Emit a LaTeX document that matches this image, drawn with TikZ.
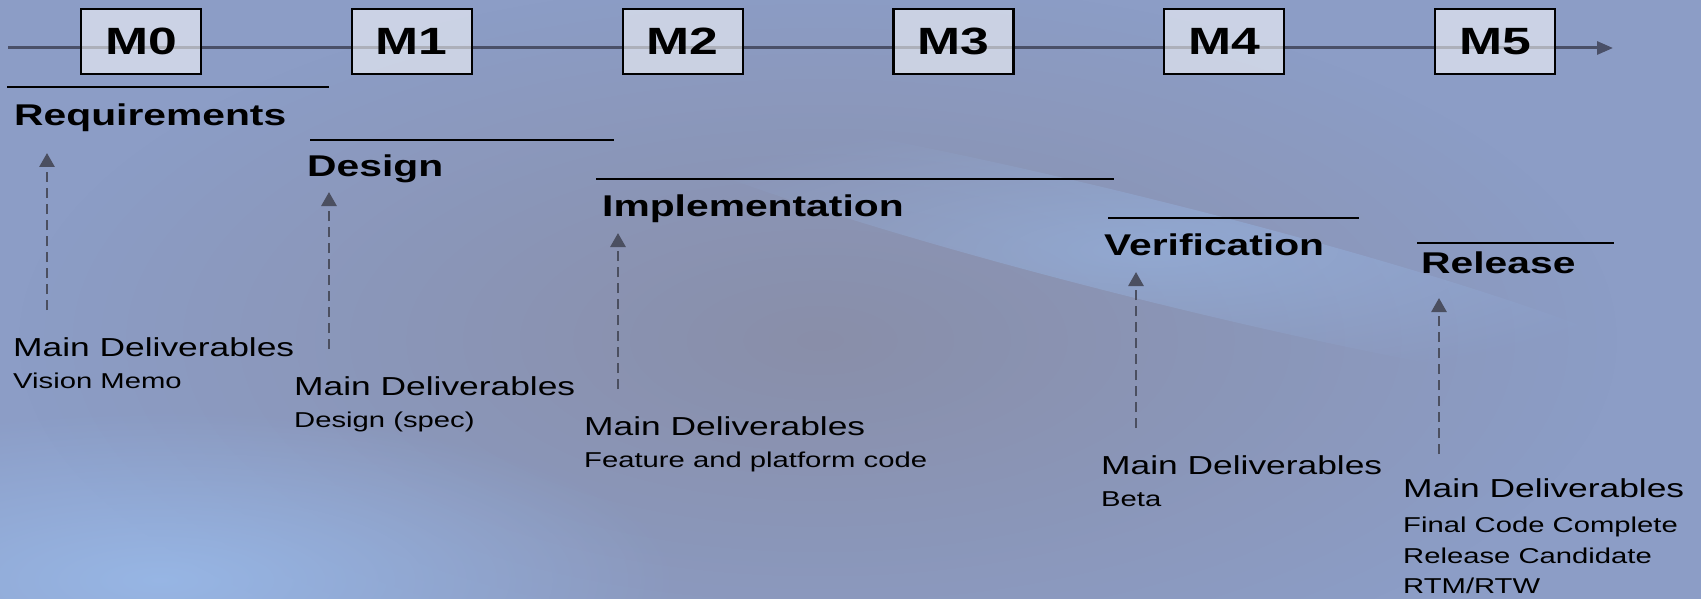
\documentclass[tikz,border=0pt]{standalone}
\usepackage{fontspec}
\setmainfont{Liberation Sans}
\newfontfamily\widefont[FakeStretch=1.36]{Liberation Sans}
\usepackage{xcolor}
\definecolor{bgblue}{HTML}{8C9DC6}
\definecolor{bggray}{HTML}{898DA6}
\definecolor{bglight}{HTML}{9ABCEC}
\definecolor{axisgray}{HTML}{4A5068}
\definecolor{flowgray}{HTML}{4B4F60}
\usetikzlibrary{arrows.meta, fadings}
\tikzfading[name=softglow, inner color=transparent!0, outer color=transparent!100]

\tikzset{
milestone/.style={draw=black, line width=2.2pt, fill=white, fill opacity=0.55, text opacity=1,
  minimum width=120, minimum height=65, inner sep=0,
  font=\widefont\fontsize{38}{38}\selectfont\bfseries},
phase/.style={anchor=base west, inner sep=0, font=\widefont\fontsize{30}{30}\selectfont\bfseries},
deliv/.style={anchor=base west, inner sep=0, font=\widefont\fontsize{26}{26}\selectfont},
detail/.style={anchor=base west, inner sep=0, font=\widefont\fontsize{21.5}{21.5}\selectfont},
phaseline/.style={line width=2.4pt, black},
upflow/.style={draw=flowgray, line width=2.8pt, dash pattern=on 10pt off 6pt, -{Triangle[width=15pt,length=14pt]}},
glow/.style={path fading=softglow}
}

\begin{document}
\begin{tikzpicture}[x=1pt, y=-1pt]
\useasboundingbox (0,0) rectangle (1701,599);
% background
\fill[bgblue] (0,0) rectangle (1701,599);
\fill[bggray, glow, opacity=0.9] (820,340) ellipse (800 and 360);
\fill[bglight, glow, opacity=0.8] (160,580) ellipse (520 and 170);
\fill[bglight, glow, opacity=0.5, rotate around={-14:(1150,250)}] (1150,250) ellipse (560 and 50);

% time axis
\coordinate (tstart) at (8,48);
\coordinate (tend) at (1613,48);
\draw[axisgray, line width=3pt, -{Triangle[width=13pt,length=16pt]}] (tstart) -- (tend);
\foreach \i in {0,...,5}{
\node[milestone] (m\i) at (141+270.8*\i,41.5) {M\i};
}

% Requirements
\draw[phaseline] (7,87) -- (329,87);
\node[phase] (req) at (14,126) {Requirements};
\coordinate (req-up) at (47,153);
\coordinate (req-down) at (47,310);
\draw[upflow] (req-down) -- (req-up);
\node[deliv] (req-md) at (13,356) {Main Deliverables};
\node[detail] (req-dt) at (13,388) {Vision Memo};

% Design
\draw[phaseline] (310,140) -- (614,140);
\node[phase] (des) at (307,176) {Design};
\coordinate (des-up) at (329,192);
\coordinate (des-down) at (329,349);
\draw[upflow] (des-down) -- (des-up);
\node[deliv] (des-md) at (294,395) {Main Deliverables};
\node[detail] (des-dt) at (294,427) {Design (spec)};

% Implementation
\draw[phaseline] (596,179) -- (1114,179);
\node[phase] (imp) at (602,216) {Implementation};
\coordinate (imp-up) at (618,233);
\coordinate (imp-down) at (618,389);
\draw[upflow] (imp-down) -- (imp-up);
\node[deliv] (imp-md) at (584,435) {Main Deliverables};
\node[detail] (imp-dt) at (584,467) {Feature and platform code};

% Verification
\draw[phaseline] (1108,218) -- (1359,218);
\node[phase] (ver) at (1104,255) {Verification};
\coordinate (ver-up) at (1136,272);
\coordinate (ver-down) at (1136,428);
\draw[upflow] (ver-down) -- (ver-up);
\node[deliv] (ver-md) at (1101,474) {Main Deliverables};
\node[detail] (ver-dt) at (1101,506) {Beta};

% Release
\draw[phaseline] (1417,243) -- (1614,243);
\node[phase] (rel) at (1421,273) {Release};
\coordinate (rel-up) at (1439,298);
\coordinate (rel-down) at (1439,454);
\draw[upflow] (rel-down) -- (rel-up);
\node[deliv] (rel-md) at (1403,497) {Main Deliverables};
\node[detail] (rel-dt1) at (1403,532) {Final Code Complete};
\node[detail] (rel-dt2) at (1403,563) {Release Candidate};
\node[detail] (rel-dt3) at (1403,593) {RTM/RTW};
\end{tikzpicture}
\end{document}
